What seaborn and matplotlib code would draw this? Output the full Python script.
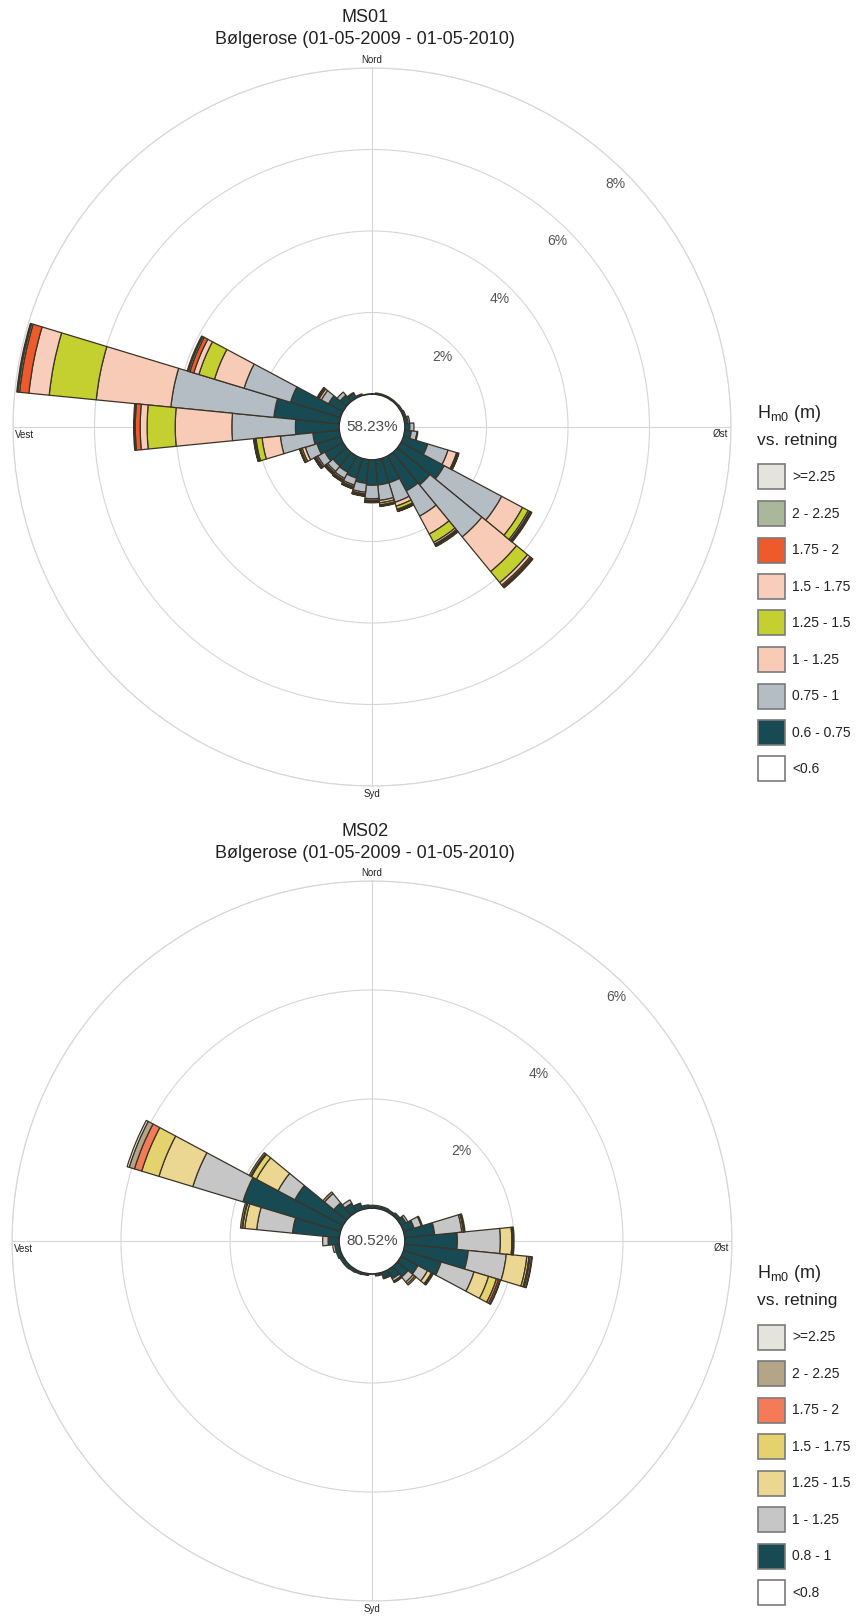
import numpy as np
import matplotlib
matplotlib.use('Agg')
import matplotlib.pyplot as plt
from matplotlib.patches import Rectangle
import seaborn as sns

# 32 direction sectors of 11.25 degrees, bearing from north
directions = np.arange(32) * 11.25

# ---- MS01: percent of time per sector and Hm0 class ----
ms01_title = 'MS01'
ms01_calm = '58.23%'
ms01_labels = ['<0.6', '0.6 - 0.75', '0.75 - 1', '1 - 1.25', '1.25 - 1.5',
               '1.5 - 1.75', '1.75 - 2', '2 - 2.25', '>=2.25']
ms01_colors = ['#ffffff', '#174a52', '#b4bcc4', '#f8cbb7', '#c3d030',
               '#f9cdbb', '#ee5a2c', '#a9b79b', '#e4e4dc']
ms01_lt060 = [0.0] * 32
ms01_060_075 = [0.00, 0.03, 0.03, 0.03, 0.03, 0.04, 0.06, 0.08, 0.12, 0.16, 0.62, 1.20, 1.03, 0.97, 0.62, 0.62,
                0.62, 0.58, 0.50, 0.45, 0.43, 0.50, 0.60, 0.65, 1.07, 1.61, 1.28, 0.40, 0.20, 0.12, 0.04, 0.00]
ms01_075_100 = [0, 0, 0, 0, 0, 0, 0, 0.04, 0.10, 0.14, 0.52, 1.60, 1.65, 0.70, 0.50, 0.38,
                0.33, 0.22, 0.18, 0.17, 0.17, 0.20, 0.30, 0.80, 1.56, 2.54, 1.19, 0.20, 0.10, 0.03, 0, 0]
ms01_100_125 = [0, 0, 0, 0, 0, 0, 0, 0, 0, 0.02, 0.22, 0.58, 1.10, 0.50, 0.10, 0.06,
                0.04, 0.04, 0.04, 0.04, 0.04, 0.04, 0.08, 0.45, 1.39, 1.84, 0.76, 0.06, 0, 0, 0, 0]
ms01_125_150 = [0, 0, 0, 0, 0, 0, 0, 0, 0, 0, 0.02, 0.16, 0.35, 0.23, 0.08, 0.05,
                0.03, 0.03, 0.03, 0.03, 0.03, 0.03, 0.04, 0.15, 0.69, 1.16, 0.40, 0.03, 0, 0, 0, 0]
ms01_150_175 = [0, 0, 0, 0, 0, 0, 0, 0, 0, 0, 0.01, 0.04, 0.08, 0.05, 0.03, 0.02,
                0.02, 0.02, 0.02, 0.02, 0.02, 0.02, 0.02, 0.02, 0.17, 0.50, 0.13, 0.01, 0, 0, 0, 0]
ms01_175_200 = [0, 0, 0, 0, 0, 0, 0, 0, 0, 0, 0.01, 0.02, 0.04, 0.03, 0.01, 0.01,
                0.01, 0.01, 0.01, 0.01, 0.01, 0.01, 0.01, 0.02, 0.12, 0.23, 0.10, 0.02, 0, 0, 0, 0]
ms01_200_225 = [0, 0, 0, 0, 0, 0, 0, 0, 0, 0, 0.01, 0.02, 0.02, 0.02, 0.01, 0.01,
                0, 0, 0, 0, 0, 0, 0, 0.01, 0.02, 0.04, 0.04, 0, 0, 0, 0, 0]
ms01_ge225 = [0, 0, 0, 0, 0, 0, 0, 0, 0, 0, 0.01, 0.02, 0.03, 0.02, 0.01, 0,
              0, 0, 0, 0, 0, 0, 0, 0.01, 0.02, 0.03, 0.03, 0, 0, 0, 0, 0]
ms01_rings = [2, 4, 6, 8]

# ---- MS02 ----
ms02_title = 'MS02'
ms02_calm = '80.52%'
ms02_labels = ['<0.8', '0.8 - 1', '1 - 1.25', '1.25 - 1.5', '1.5 - 1.75',
               '1.75 - 2', '2 - 2.25', '>=2.25']
ms02_colors = ['#ffffff', '#174a52', '#c6c6c6', '#ecd792', '#e4d36c',
               '#f47a58', '#b4a488', '#e4e4dc']
ms02_lt080 = [0.0] * 32
ms02_080_100 = [0.05, 0.05, 0.05, 0.04, 0.06, 0.10, 0.20, 0.55, 0.96, 1.17, 0.72, 0.35, 0.25, 0.18, 0.10, 0.04,
                0.00, 0.03, 0.04, 0.05, 0.06, 0.06, 0.08, 0.08, 0.20, 0.86, 1.87, 1.00, 0.30, 0.18, 0.12, 0.06]
ms02_100_125 = [0, 0, 0, 0, 0, 0.04, 0.14, 0.50, 0.79, 0.70, 0.63, 0.20, 0.12, 0.05, 0.02, 0,
                0, 0, 0, 0, 0, 0, 0, 0.04, 0.10, 0.66, 0.96, 0.35, 0.22, 0.07, 0, 0]
ms02_125_150 = [0, 0, 0, 0, 0, 0, 0, 0.03, 0.21, 0.38, 0.28, 0.08, 0.04, 0.02, 0, 0,
                0, 0, 0, 0, 0, 0, 0, 0, 0, 0.22, 0.65, 0.45, 0, 0, 0, 0]
ms02_150_175 = [0, 0, 0, 0, 0, 0, 0, 0.01, 0.02, 0.04, 0.15, 0.02, 0, 0, 0, 0,
                0, 0, 0, 0, 0, 0, 0, 0, 0, 0.04, 0.33, 0.10, 0, 0, 0, 0]
ms02_175_200 = [0, 0, 0, 0, 0, 0, 0, 0, 0, 0.02, 0.04, 0, 0, 0, 0, 0,
                0, 0, 0, 0, 0, 0, 0, 0, 0, 0.01, 0.14, 0.02, 0, 0, 0, 0]
ms02_200_225 = [0, 0, 0, 0, 0, 0, 0.02, 0.02, 0.02, 0.03, 0.03, 0.02, 0.03, 0.01, 0, 0,
                0, 0, 0, 0, 0, 0, 0, 0, 0, 0.03, 0.10, 0.03, 0.04, 0, 0, 0]
ms02_ge225 = [0, 0, 0, 0, 0, 0, 0, 0, 0, 0.01, 0.01, 0, 0, 0, 0, 0,
              0, 0, 0, 0, 0, 0, 0, 0, 0, 0, 0.04, 0, 0, 0, 0, 0]
ms02_rings = [2, 4, 6]

subtitle = 'Bølgerose (01-05-2009 - 01-05-2010)'

W, H = 861, 1619
sns.set_theme(style='white')
plt.rcParams['font.family'] = ['Liberation Sans', 'DejaVu Sans']
plt.rcParams['mathtext.fontset'] = 'custom'
plt.rcParams['mathtext.rm'] = 'Liberation Sans'
plt.rcParams['mathtext.it'] = 'Liberation Sans:italic'

GRID = '#d6d6d6'
EDGE = '#3b3326'


def fx(x):
    return x / W


def fy(y):
    return 1 - y / H


def rose(fig, cx, cy, radius, hole, rmax, rings, classes, colors, calm, title):
    ax = fig.add_axes([fx(cx - radius), fy(cy + radius), 2 * radius / W, 2 * radius / H],
                      projection='polar')
    ax.set_theta_zero_location('N')
    ax.set_theta_direction(-1)
    scale = (radius - hole) / rmax
    ax.set_rorigin(-hole / scale)
    ax.set_rlim(0, rmax)

    theta = np.deg2rad(directions)
    width = np.deg2rad(360 / len(directions))
    bottom = np.zeros(len(directions))
    for vals, col in zip(classes, colors):
        vals = np.asarray(vals, dtype=float)
        m = vals > 0
        if m.any():
            ax.bar(theta[m], vals[m], width=width, bottom=bottom[m], color=col,
                   edgecolor=EDGE, linewidth=0.9, zorder=3)
        bottom += vals

    ax.set_xticks(np.deg2rad([0, 90, 180, 270]))
    ax.set_xticklabels([])
    ax.set_yticks(rings)
    ax.set_yticklabels([])
    ax.grid(True, color=GRID, linewidth=0.8)
    ax.set_axisbelow(True)
    ax.spines['polar'].set_color(GRID)
    ax.spines['polar'].set_linewidth(0.8)
    ax.spines['inner'].set_visible(False)

    off = 15 / scale
    for r in rings:
        ax.text(np.deg2rad(45), r - off, f'{r}%', ha='center', va='center',
                fontsize=10, color='#555555', zorder=4)

    ax.text(0.5, 0.5, calm, transform=ax.transAxes, ha='center', va='center',
            fontsize=11, color='#4a4a4a', zorder=5)

    d = 2 * radius
    lab = dict(transform=ax.transAxes, fontsize=7, color='#222222')
    ax.text(0.5, 1 + 8 / d, 'Nord', ha='center', va='center', **lab)
    ax.text(0.5, -8 / d, 'Syd', ha='center', va='center', **lab)
    ax.text(2 / d, 0.5 - 8 / d, 'Vest', ha='left', va='center', **lab)
    ax.text(1 - 3 / d, 0.5 - 7 / d, 'Øst', ha='right', va='center', **lab)

    top = cy - radius
    fig.text(fx(365), fy(top - 50), title, ha='center', va='center', fontsize=13, color='#222222')
    fig.text(fx(365), fy(top - 28), subtitle, ha='center', va='center', fontsize=13, color='#222222')
    return ax


def legend(fig, y0, labels, colors):
    fig.text(fx(757), fy(y0), r'H$_{\rm m0}$ (m)', ha='left', va='center', fontsize=13, color='#222222')
    fig.text(fx(757), fy(y0 + 27), 'vs. retning', ha='left', va='center', fontsize=12.5, color='#222222')
    for i, (lab, col) in enumerate(zip(labels[::-1], colors[::-1])):
        yc = y0 + 64 + 36.5 * i
        fig.add_artist(Rectangle((fx(758), fy(yc + 12.5)), 27 / W, 25 / H, transform=fig.transFigure,
                                 facecolor=col, edgecolor='#7a7a7a', linewidth=1.2))
        fig.text(fx(792), fy(yc), lab, ha='left', va='center', fontsize=10, color='#222222')


fig = plt.figure(figsize=(W / 100, H / 100), dpi=100)
fig.patch.set_facecolor('white')

ms01_classes = [ms01_lt060, ms01_060_075, ms01_075_100, ms01_100_125, ms01_125_150,
                ms01_150_175, ms01_175_200, ms01_200_225, ms01_ge225]
ms02_classes = [ms02_lt080, ms02_080_100, ms02_100_125, ms02_125_150, ms02_150_175,
                ms02_175_200, ms02_200_225, ms02_ge225]

rose(fig, 372, 427, 359, 33, 8, ms01_rings, ms01_classes, ms01_colors, ms01_calm, ms01_title)
legend(fig, 413, ms01_labels, ms01_colors)

rose(fig, 372, 1241, 360, 33, 6, ms02_rings, ms02_classes, ms02_colors, ms02_calm, ms02_title)
legend(fig, 1273, ms02_labels, ms02_colors)

fig.savefig('out.png', dpi=100, facecolor='white')
